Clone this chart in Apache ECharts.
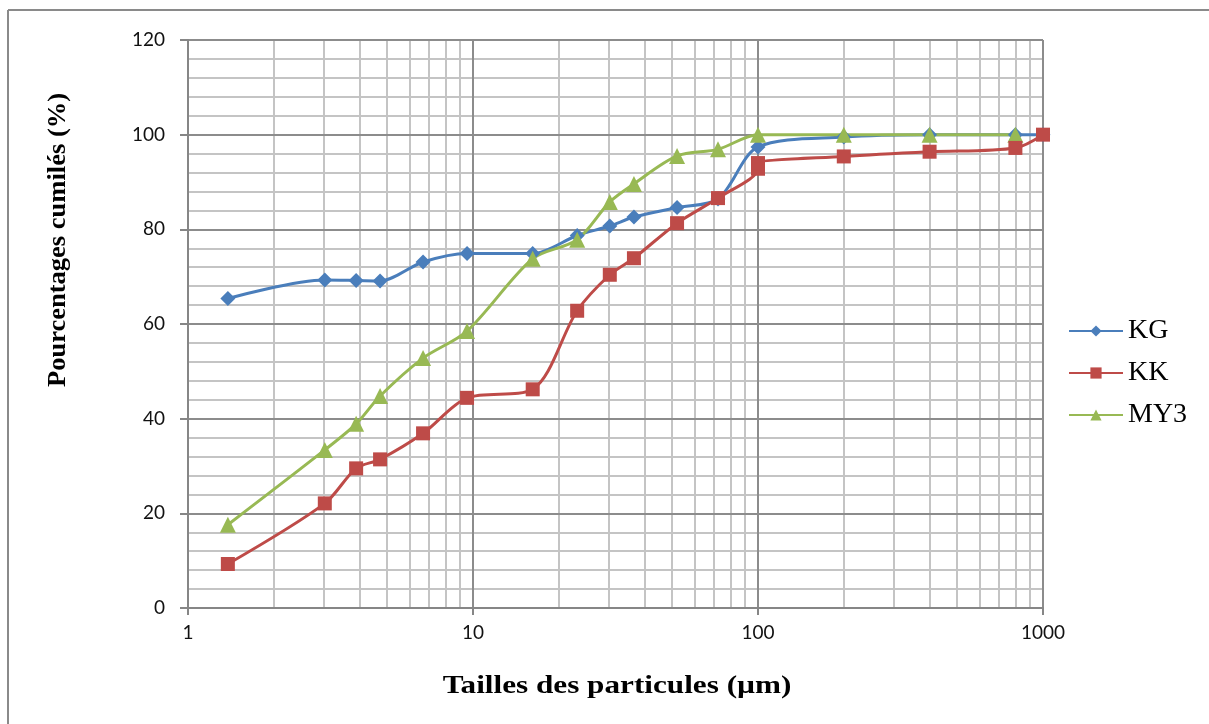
<!DOCTYPE html>
<html>
<head>
<meta charset="utf-8">
<script src="https://cdn.jsdelivr.net/npm/echarts@6/dist/echarts.min.js"></script>
<style>
html,body{margin:0;padding:0;background:#fff;}
#chart{width:1209px;height:724px;}
</style>
</head>
<body>
<div id="chart"></div>
<script>
// Particle sizes (µm)
var sizesKG = [1.38, 3.02, 3.89, 4.72, 6.68, 9.53, 16.2, 23.2, 30.2, 36.7, 52, 72.4, 100, 200, 400, 800, 1000];
var valuesKG = [65.4, 69.3, 69.2, 69.1, 73.1, 74.9, 74.9, 78.7, 80.7, 82.6, 84.6, 86.4, 97.4, 99.5, 100, 100, 100];

var sizesKK = [1.38, 3.02, 3.89, 4.72, 6.68, 9.53, 16.2, 23.2, 30.2, 36.7, 52, 72.4, 100, 100, 200, 400, 800, 1000];
var valuesKK = [9.3, 22.1, 29.5, 31.4, 36.9, 44.4, 46.2, 62.8, 70.4, 73.9, 81.3, 86.6, 92.8, 94.0, 95.4, 96.4, 97.2, 100];

var sizesMY3 = [1.38, 3.02, 3.89, 4.72, 6.68, 9.53, 16.2, 23.2, 30.2, 36.7, 52, 72.4, 100, 200, 400, 800];
var valuesMY3 = [17.6, 33.4, 38.9, 44.8, 52.8, 58.5, 73.8, 77.8, 85.8, 89.6, 95.5, 96.9, 100, 100, 100, 100];

var seriesNames = ['KG', 'KK', 'MY3'];
var xTickLabels = [1, 10, 100, 1000];
var yTicks = [0, 20, 40, 60, 80, 100, 120];
var minorXLines = [2,3,4,5,6,7,8,9,20,30,40,50,60,70,80,90,200,300,400,500,600,700,800,900];

function zip(xs, ys){ return xs.map(function(x,i){ return [x, ys[i]]; }); }

var chart = echarts.init(document.getElementById('chart'), null, {renderer:'canvas'});
var lw = 3;
var option = {
  animation: false,
  grid: {left: 188, right: 166, top: 40, bottom: 116, containLabel: false},
  xAxis: {
    type: 'log', logBase: 10, min: 1, max: 1000,
    axisLine: {show: true, onZero: false, lineStyle: {color: '#868686', width: 2}},
    axisTick: {show: true, length: 7, lineStyle: {color: '#868686', width: 2}},
    axisLabel: {margin: 15, color: '#111', fontFamily: 'Lato', fontSize: 19,
      formatter: function(v){ return xTickLabels.indexOf(Math.round(v)) >= 0 ? String(Math.round(v)) : ''; }},
    splitLine: {show: true, lineStyle: {color: '#8c8c8c', width: 2}}
  },
  yAxis: {
    type: 'value', min: 0, max: 120, interval: 20,
    axisLine: {show: true, lineStyle: {color: '#868686', width: 2}},
    axisTick: {show: true, length: 8, lineStyle: {color: '#868686', width: 2}},
    axisLabel: {margin: 23, color: '#111', fontFamily: 'Lato', fontSize: 19},
    splitLine: {show: true, lineStyle: {color: '#8c8c8c', width: 2}},
    minorTick: {show: false, splitNumber: 5},
    minorSplitLine: {show: true, lineStyle: {color: '#c4c4c4', width: 2}}
  },
  legend: {
    orient: 'vertical', left: 1063, top: 312,
    itemWidth: 54, itemHeight: 14, itemGap: 14,
    data: seriesNames,
    textStyle: {fontFamily: 'Liberation Serif', fontSize: 28, color: '#000', padding: [0,0,0,0]}
  },
  graphic: [
    {type: 'line', shape: {x1: 8, y1: 10, x2: 8, y2: 724}, style: {stroke: '#8a8a8a', lineWidth: 2}},
    {type: 'line', shape: {x1: 8, y1: 10, x2: 1209, y2: 10}, style: {stroke: '#8a8a8a', lineWidth: 2}},
    {type: 'text', x: 58, y: 240, rotation: Math.PI/2, scaleX: 1.02,
      style: {text: 'Pourcentages cumilés (%)', font: 'bold 26px "Liberation Serif"', fill: '#000',
        textAlign: 'center', textVerticalAlign: 'middle'}},
    {type: 'text', x: 617, y: 686, scaleX: 1.2,
      style: {text: 'Tailles des particules (µm)', font: 'bold 26px "Liberation Serif"', fill: '#000',
        textAlign: 'center', textVerticalAlign: 'middle'}}
  ],
  series: [
    {
      type: 'line', name: '__grid', data: [], silent: true, z: -1,
      markLine: {
        silent: true, symbol: ['none','none'], z: -1, animation: false,
        label: {show: false},
        lineStyle: {color: '#c4c4c4', width: 2, type: 'solid'},
        data: minorXLines.map(function(v){ return {xAxis: v}; })
      }
    },
    {
      type: 'line', name: 'KG', data: zip(sizesKG, valuesKG), smooth: 0.3,
      symbol: 'diamond', symbolSize: 15, z: 3,
      itemStyle: {color: '#4a7ebb'}, lineStyle: {color: '#4a7ebb', width: lw}
    },
    {
      type: 'line', name: 'KK', data: zip(sizesKK, valuesKK), smooth: 0.3,
      symbol: 'rect', symbolSize: 14, z: 4,
      itemStyle: {color: '#be4b48'}, lineStyle: {color: '#be4b48', width: lw}
    },
    {
      type: 'line', name: 'MY3', data: zip(sizesMY3, valuesMY3), smooth: 0.3,
      symbol: 'triangle', symbolSize: 16, z: 3,
      itemStyle: {color: '#98b954'}, lineStyle: {color: '#98b954', width: lw}
    }
  ]
};
chart.setOption(option);
</script>
</body>
</html>
